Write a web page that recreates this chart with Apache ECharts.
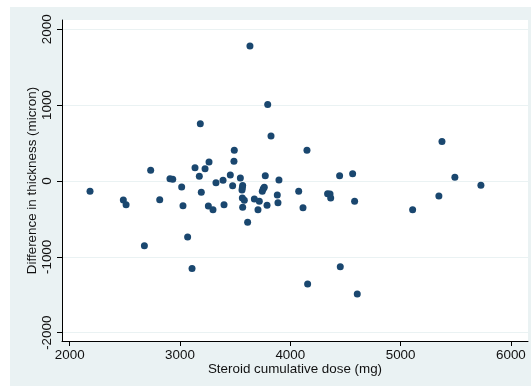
<!DOCTYPE html>
<html>
<head>
<meta charset="utf-8">
<script src="https://cdn.jsdelivr.net/npm/echarts@6/dist/echarts.min.js"></script>
<style>
  html, body { margin: 0; padding: 0; background: #fff; }
  #chart { width: 531px; height: 387px; }
</style>
</head>
<body>
<div id="chart"></div>
<script>
// steroid cumulative dose (mg)
const doseMg = [
  2184, 2486, 2511, 2677, 2734, 2816, 2909, 2934, 3015, 3027,
  3069, 3109, 3136, 3175, 3184, 3193, 3227, 3257, 3263, 3299,
  3326, 3390, 3399, 3456, 3477, 3489, 3492, 3547, 3562, 3568,
  3565, 3565, 3568, 3583, 3613, 3634, 3674, 3707, 3719, 3746,
  3755, 3764, 3773, 3789, 3795, 3825, 3882, 3888, 3897, 4076,
  4115, 4151, 4157, 4338, 4360, 4366, 4447, 4453, 4565, 4583,
  4607, 5109, 5347, 5375, 5492, 5728
]
// difference in thickness (micron)
const diffMicron = [
  -136, -251, -312, -853, 141, -246, 31, 22, -79, -325,
  -738, -1152, 176, 62, 756, -149, 163, -330, 251, -378,
  -22, 9, -312, 79, -62, 259, 404, 40, -119, -60,
  -88, -224, -347, -255, -545, 1780, -237, -378, -268, -136,
  -101, -84, 70, -321, 1007, 593, -185, -286, 13, -136,
  -352, 404, -1358, -167, -171, -224, 70, -1130, 97, -268,
  -1490, -378, -198, 519, 48, -57
]
const xTicks = [2000, 3000, 4000, 5000, 6000]
const yTicks = [-2000, -1000, 0, 1000, 2000]

const chart = echarts.init(document.getElementById('chart'))
const font = 'Liberation Sans, Arial, Helvetica, sans-serif'
const plain = v => String(v)

const option = {
  animation: false,
  backgroundColor: '#fff',
  graphic: [{
    type: 'rect',
    z: -10,
    shape: { x: 10, y: 7, width: 521, height: 379 },
    style: { fill: '#EAF2F3' }
  }],
  grid: {
    left: 62,
    top: 20,
    right: 3,
    bottom: 46,
    show: true,
    backgroundColor: '#fff',
    borderWidth: 0
  },
  xAxis: {
    type: 'value',
    min: 1930,
    max: 6155,
    name: 'Steroid cumulative dose (mg)',
    nameLocation: 'middle',
    nameGap: 22,
    nameMoveOverlap: false,
    nameTextStyle: { color: '#111', fontSize: 13.4, fontFamily: font },
    axisLine: { show: true, onZero: false, lineStyle: { color: '#000', width: 1 } },
    axisTick: { show: true, length: 5, customValues: xTicks, lineStyle: { color: '#000' } },
    axisLabel: { customValues: xTicks, formatter: plain, color: '#111', fontSize: 13.4, fontFamily: font, margin: 8 },
    splitLine: { show: false }
  },
  yAxis: {
    type: 'value',
    min: -2109,
    max: 2122,
    name: 'Difference in thickness (micron)',
    nameLocation: 'middle',
    nameRotate: 90,
    nameGap: 23,
    nameMoveOverlap: false,
    nameTextStyle: { color: '#111', fontSize: 13.4, fontFamily: font },
    axisLine: { show: true, onZero: false, lineStyle: { color: '#000', width: 1 } },
    axisTick: { show: true, length: 5, customValues: yTicks, lineStyle: { color: '#000' } },
    axisLabel: { customValues: yTicks, formatter: plain, rotate: 90, color: '#111', fontSize: 13.4, fontFamily: font, margin: 8 },
    splitLine: { show: true, lineStyle: { color: '#EAF2F3', width: 1 } }
  },
  series: [{
    type: 'scatter',
    symbol: 'circle',
    symbolSize: 7,
    itemStyle: { color: '#1A476F', opacity: 1 },
    data: doseMg.map((d, i) => [d, diffMicron[i]])
  }]
}

chart.setOption(option)
</script>
</body>
</html>
